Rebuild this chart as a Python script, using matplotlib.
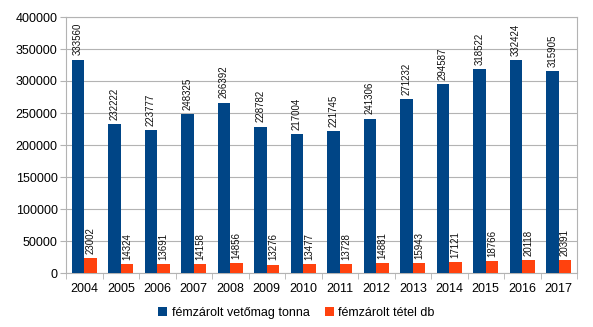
import numpy as np
import matplotlib.pyplot as plt

plt.rcParams['font.family'] = ['Liberation Sans', 'DejaVu Sans']

years = ['2004', '2005', '2006', '2007', '2008', '2009', '2010',
         '2011', '2012', '2013', '2014', '2015', '2016', '2017']
tonna = [333560, 232222, 223777, 248325, 266392, 228782, 217004,
         221745, 241306, 271232, 294587, 318522, 332424, 315905]
tetel = [23002, 14324, 13691, 14158, 14856, 13276, 13477,
         13728, 14881, 15943, 17121, 18766, 20118, 20391]

fig = plt.figure(figsize=(5.93, 3.27), dpi=100)
ax = fig.add_axes([66 / 593, 1 - 273 / 327, 511 / 593, 256 / 327])

x = np.arange(len(years))
w = 0.345
b1 = ax.bar(x - w / 2, tonna, w, color='#004586', label='fémzárolt vetőmag tonna', zorder=3)
b2 = ax.bar(x + w / 2, tetel, w, color='#ff420e', label='fémzárolt tétel db', zorder=3)

for bars, vals in ((b1, tonna), (b2, tetel)):
    for r, v in zip(bars, vals):
        ax.annotate(str(v), (r.get_x() + r.get_width() / 2, v), xytext=(0, 3),
                    textcoords='offset points', rotation=90, ha='center', va='bottom',
                    fontsize=7, color='#111111', zorder=4)

ax.set_xlim(-0.5, len(years) - 0.5)
ax.set_ylim(0, 400000)
ax.set_yticks(range(0, 400001, 50000))
ax.yaxis.grid(True, color='#b3b3b3', linewidth=0.8, zorder=0)
ax.set_xticks(x)
ax.set_xticklabels(years, fontsize=9)
ax.set_xticks(np.arange(-0.5, len(years), 1), minor=True)
ax.tick_params(axis='x', which='major', length=0, pad=7)
ax.tick_params(axis='x', which='minor', length=4, color='#b3b3b3')
ax.tick_params(axis='y', length=4, color='#b3b3b3', labelsize=9, pad=2)
for s in ax.spines.values():
    s.set_color('#b3b3b3')
    s.set_linewidth(0.8)

fig.legend(loc='center', bbox_to_anchor=(0.5, 1 - 313 / 327), ncol=2, frameon=False,
           fontsize=9, handlelength=0.7, handleheight=0.7, columnspacing=1.2,
           handletextpad=0.4)

fig.savefig('out.png', dpi=100)
